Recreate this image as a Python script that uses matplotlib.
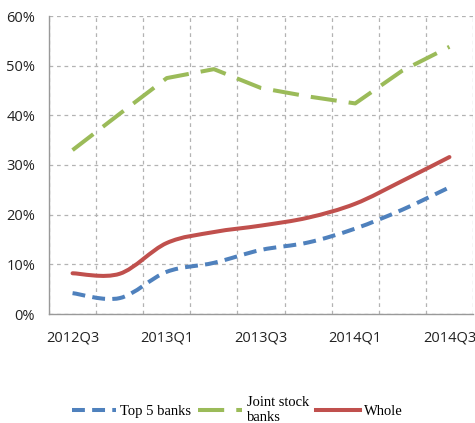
import matplotlib
matplotlib.use("Agg")
import matplotlib.pyplot as plt
import numpy as np
from matplotlib.path import Path
from matplotlib.patches import PathPatch
from matplotlib.lines import Line2D
from matplotlib.ticker import FuncFormatter, MultipleLocator

quarters = ["2012Q3", "2012Q4", "2013Q1", "2013Q2", "2013Q3",
            "2013Q4", "2014Q1", "2014Q2", "2014Q3"]
top5_banks = [4.2, 3.2, 8.5, 10.3, 12.9, 14.4, 17.2, 21.0, 25.5]
joint_stock_banks = [33.0, 40.3, 47.5, 49.3, 45.5, 43.8, 42.4, 49.0, 53.8]
whole = [8.2, 8.1, 14.3, 16.5, 17.8, 19.4, 22.2, 26.8, 31.6]

BLUE = "#4F81BD"
GREEN = "#9BBB59"
RED = "#C0504D"
LW = 2.9


def smooth_path(xs, ys):
    """Catmull-Rom style cubic Bezier through every point."""
    pts = np.column_stack([xs, ys]).astype(float)
    verts = [pts[0]]
    codes = [Path.MOVETO]
    n = len(pts)
    for i in range(n - 1):
        p0 = pts[i - 1] if i > 0 else pts[i]
        p1, p2 = pts[i], pts[i + 1]
        p3 = pts[i + 2] if i + 2 < n else pts[i + 1]
        c1 = p1 + (p2 - p0) / 6.0
        c2 = p2 - (p3 - p1) / 6.0
        verts += [c1, c2, p2]
        codes += [Path.CURVE4] * 3
    return Path(verts, codes)


fig = plt.figure(figsize=(4.75, 4.23), dpi=100)
ax = fig.add_axes([49 / 475, 109 / 423, 424 / 475, 298 / 423])

x = np.arange(len(quarters))

# Top 5 banks: smoothed, short dashes
p_top5 = PathPatch(smooth_path(x, top5_banks), fill=False, edgecolor=BLUE,
                   lw=LW, linestyle=(0, (3.2, 1.8)), zorder=3)
p_top5.set_capstyle("butt")
ax.add_patch(p_top5)

# Joint stock banks: straight segments, long dashes
ax.plot(x, joint_stock_banks, color=GREEN, lw=LW, linestyle=(0, (6.5, 3.0)),
        dash_capstyle="butt", zorder=3)

# Whole: smoothed solid line
p_whole = PathPatch(smooth_path(x, whole), fill=False, edgecolor=RED,
                    lw=LW, linestyle="-", zorder=3)
p_whole.set_capstyle("round")
ax.add_patch(p_whole)

ax.set_xlim(-0.5, len(quarters) - 0.5)
ax.set_ylim(0, 60)
ax.yaxis.set_major_locator(MultipleLocator(10))
ax.yaxis.set_major_formatter(FuncFormatter(lambda v, _: f"{v:.0f}%"))
ax.set_xticks(x[::2])
ax.set_xticklabels(quarters[::2])
ax.set_xticks(np.arange(-0.5, len(quarters), 1.0), minor=True)

ax.grid(True, which="major", axis="y", color="#b3b3b3", lw=0.9,
        linestyle=(0, (3, 3)))
ax.grid(True, which="minor", axis="x", color="#b3b3b3", lw=0.9,
        linestyle=(0, (3, 3)))
ax.set_axisbelow(True)

for side in ("top", "right"):
    ax.spines[side].set_visible(False)
for side in ("left", "bottom"):
    ax.spines[side].set_color("#999999")
    ax.spines[side].set_linewidth(1.0)

ax.tick_params(axis="both", which="both", length=0, labelsize=10.5,
               colors="#222222")
ax.tick_params(axis="x", pad=12)
ax.tick_params(axis="y", pad=10)
for lab in ax.get_xticklabels() + ax.get_yticklabels():
    lab.set_fontfamily("Open Sans")

handles = [
    Line2D([], [], color=BLUE, lw=LW, linestyle=(0, (3.2, 1.8))),
    Line2D([], [], color=GREEN, lw=LW, linestyle=(0, (6.5, 3.0))),
    Line2D([], [], color=RED, lw=LW),
]
labels = ["Top 5 banks", "Joint stock\nbanks", "Whole"]
fig.legend(handles, labels, loc="center", bbox_to_anchor=(0.5, 13 / 423),
           ncol=3, frameon=False, handlelength=3.0, handletextpad=0.3,
           columnspacing=0.5, prop={"family": "Liberation Serif", "size": 10.5})

fig.savefig("out.png", dpi=100)
